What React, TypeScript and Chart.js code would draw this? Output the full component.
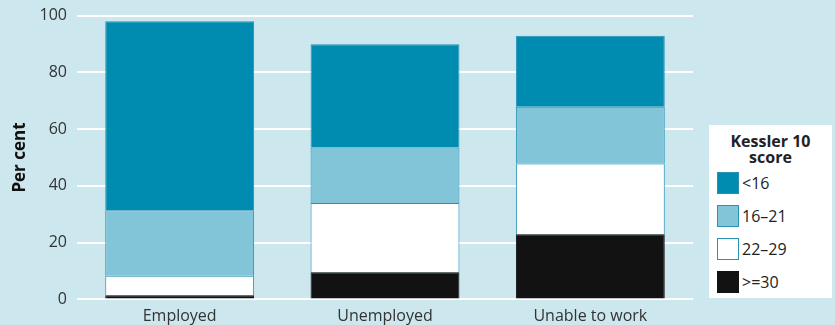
import React, { useEffect, useRef } from "react";
import { Chart, registerables } from "chart.js";

Chart.register(...registerables);

const categories = ["Employed", "Unemployed", "Unable to work"];
const seriesLabels = [">=30", "22\u201329", "16\u201321", "<16"];
const over30 = [1.5, 9.6, 23.0];
const s22to29 = [6.8, 24.4, 24.9];
const s16to21 = [23.1, 19.5, 20.0];
const under16 = [66.6, 36.4, 25.0];
const yTicks = [0, 20, 40, 60, 80, 100];

const colors = ["#121212", "#ffffff", "#82c5d8", "#008bb0"];
const FONT = "'Open Sans', 'Liberation Sans', sans-serif";
const BG = "#cce7ee";

export default function App() {
  const ref = useRef<HTMLCanvasElement | null>(null);

  useEffect(() => {
    document.body.style.margin = "0";
    document.body.style.background = BG;
    const values = [over30, s22to29, s16to21, under16];
    const chart = new Chart(ref.current!, {
      type: "bar",
      data: {
        labels: categories,
        datasets: values.map((v, i) => ({
          label: seriesLabels[i],
          data: v,
          backgroundColor: colors[i],
          borderColor: i === 0 ? "#121212" : "#2a91b3",
          borderWidth: 1,
          categoryPercentage: 0.725,
          barPercentage: 1,
        })),
      },
      options: {
        animation: false,
        responsive: false,
        maintainAspectRatio: false,
        layout: { padding: { top: 0, right: 142, left: 10, bottom: 0 } },
        plugins: { legend: { display: false }, tooltip: { enabled: false } },
        scales: {
          x: {
            stacked: true,
            grid: { display: false },
            border: { display: false },
            ticks: { color: "#333", font: { family: FONT, size: 16, lineHeight: 1.1 }, padding: 0 },
          },
          y: {
            stacked: true,
            min: 0,
            max: 100,
            afterBuildTicks: (s: any) => {
              s.ticks = yTicks.map((v) => ({ value: v }));
            },
            afterFit: (s: any) => {
              s.width = 67;
            },
            grid: { color: "#ffffff", lineWidth: 2, drawTicks: false },
            border: { display: false },
            ticks: { color: "#333", font: { family: FONT, size: 16, lineHeight: 0.7 }, padding: 10 },
            title: {
              display: true,
              text: "Per cent",
              color: "#111",
              font: { family: FONT, size: 17, weight: "bold" },
              padding: { top: 0, bottom: 4 },
            },
          },
        },
      },
    });
    return () => chart.destroy();
  }, []);

  const legendItems = [3, 2, 1, 0];
  return (
    <div style={{ position: "relative", width: 835, height: 325, background: BG }}>
      <canvas ref={ref} width={835} height={325} style={{ display: "block" }} />
      <div
        style={{
          position: "absolute",
          left: 709,
          top: 125,
          width: 123,
          height: 173,
          background: "#fff",
          fontFamily: FONT,
          color: "#222",
        }}
      >
        <div
          style={{
            position: "absolute",
            left: 0,
            right: 0,
            top: 8,
            textAlign: "center",
            fontWeight: "bold",
            fontSize: 16,
            lineHeight: "16px",
          }}
        >
          Kessler 10
          <br />
          score
        </div>
        {legendItems.map((i, k) => (
          <div
            key={i}
            style={{
              position: "absolute",
              left: 8,
              top: 47 + k * 33,
              display: "flex",
              alignItems: "center",
              height: 22,
            }}
          >
            <span
              style={{
                display: "inline-block",
                width: 22,
                height: 22,
                boxSizing: "border-box",
                background: colors[i],
                border: `1px solid ${i === 0 ? "#121212" : "#2a91b3"}`,
                marginRight: 3,
              }}
            />
            <span style={{ fontSize: 16 }}>{seriesLabels[i]}</span>
          </div>
        ))}
      </div>
    </div>
  );
}
